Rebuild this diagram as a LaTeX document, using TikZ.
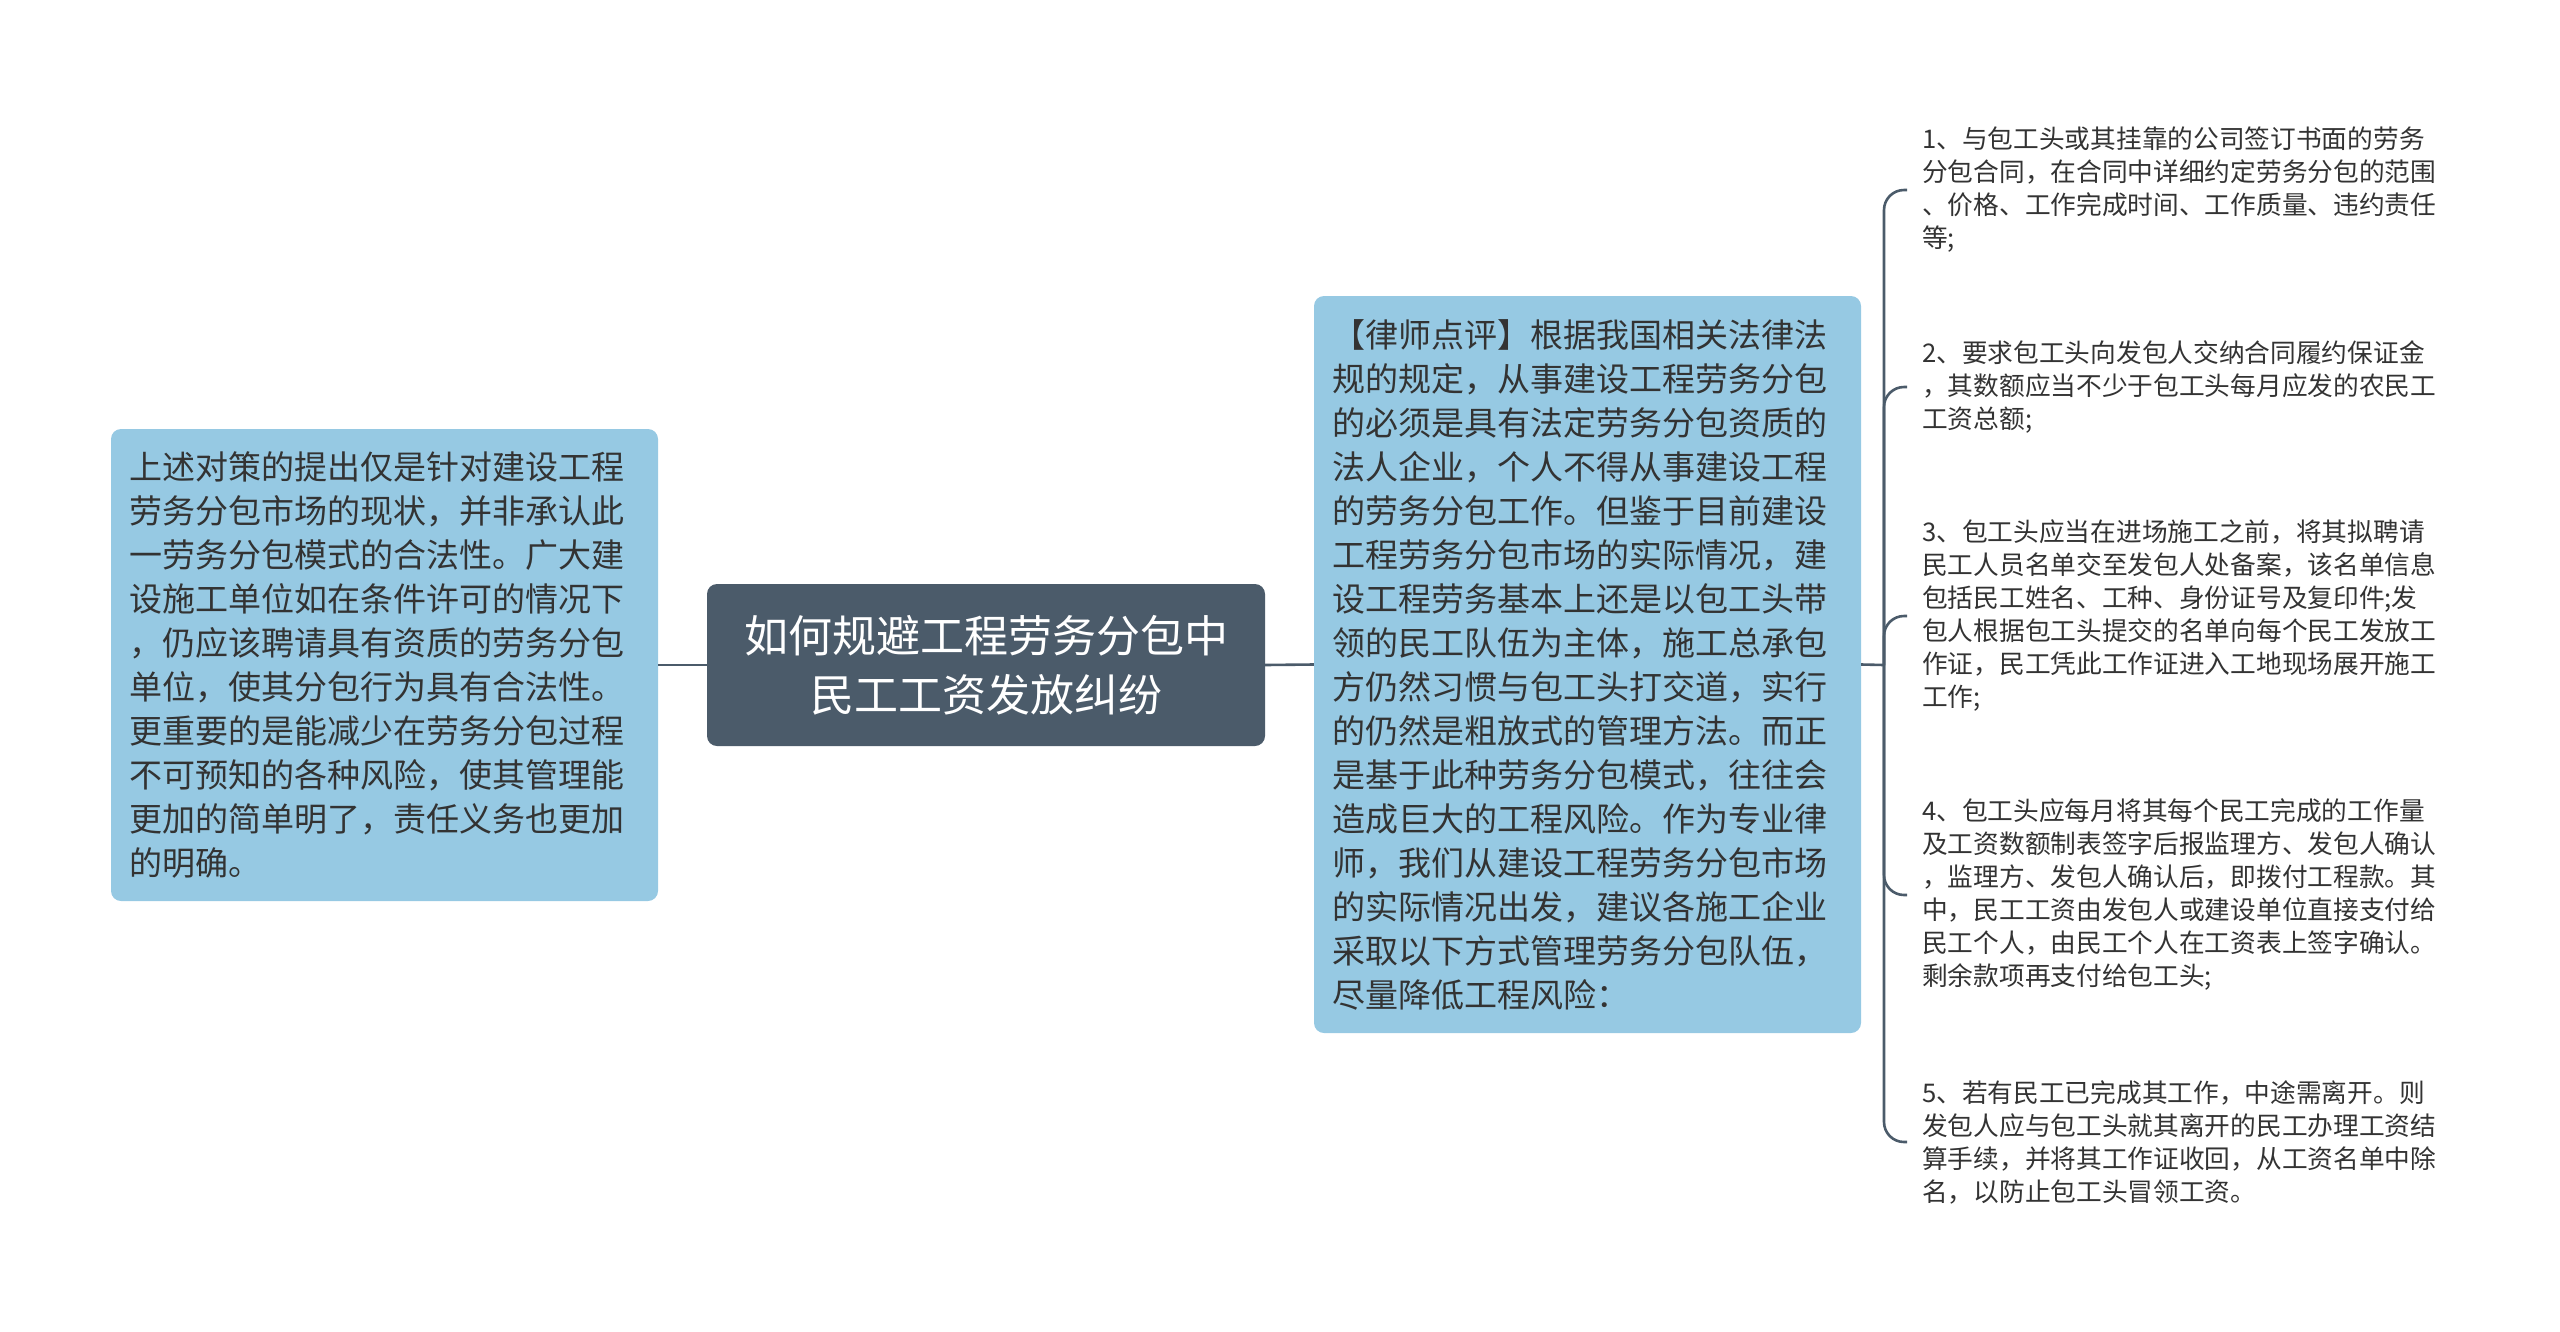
\documentclass[tikz,border=0pt]{standalone}
\usepackage{fontspec}
\setmainfont{Noto Sans CJK SC}
\usetikzlibrary{positioning}
\definecolor{boxblue}{HTML}{96C9E3}
\definecolor{rootgray}{HTML}{4B5B6A}
\definecolor{txtdark}{HTML}{333333}
\tikzset{
  bluebox/.style = {fill=boxblue, rounded corners=10pt, text=txtdark, align=left,
    inner xsep=18pt, inner ysep=0pt, font=\fontsize{33}{44}\selectfont},
  rootbox/.style = {fill=rootgray, rounded corners=10pt, text=white, align=center,
    inner sep=0pt, minimum width=558pt, minimum height=162pt, font=\fontsize{44}{59}\selectfont},
  itemtext/.style = {anchor=west, text=txtdark, align=left, inner xsep=15pt, inner ysep=0pt,
    font=\fontsize{25.7}{33}\selectfont},
  link/.style = {draw=rootgray, line width=2.6pt},
  branch/.style = {link, rounded corners=20pt}
}
\begin{document}
\begin{tikzpicture}[x=1pt, y=-1pt]
  \useasboundingbox (0,0) rectangle (2560,1331);

  \node [rootbox] (root) at (986,665) {如何规避工程劳务分包中\\民工工资发放纠纷};

  \node [bluebox, text width=511pt, minimum height=472pt] (summary) at (384.5,665) {%
上述对策的提出仅是针对建设工程\\%
劳务分包市场的现状，并非承认此\\%
一劳务分包模式的合法性。广大建\\%
设施工单位如在条件许可的情况下\\%
，仍应该聘请具有资质的劳务分包\\%
单位，使其分包行为具有合法性。\\%
更重要的是能减少在劳务分包过程\\%
不可预知的各种风险，使其管理能\\%
更加的简单明了，责任义务也更加\\%
的明确。};

  \node [bluebox, text width=511pt, minimum height=737pt] (review) at (1587.5,664.5) {%
【律师点评】根据我国相关法律法\\%
规的规定，从事建设工程劳务分包\\%
的必须是具有法定劳务分包资质的\\%
法人企业，个人不得从事建设工程\\%
的劳务分包工作。但鉴于目前建设\\%
工程劳务分包市场的实际情况，建\\%
设工程劳务基本上还是以包工头带\\%
领的民工队伍为主体，施工总承包\\%
方仍然习惯与包工头打交道，实行\\%
的仍然是粗放式的管理方法。而正\\%
是基于此种劳务分包模式，往往会\\%
造成巨大的工程风险。作为专业律\\%
师，我们从建设工程劳务分包市场\\%
的实际情况出发，建议各施工企业\\%
采取以下方式管理劳务分包队伍，\\%
尽量降低工程风险：};

  % measures on the right
  \coordinate (spine) at (1884,665);
  \node [itemtext] (item1) at (1907,190) {%
1、与包工头或其挂靠的公司签订书面的劳务\\%
分包合同，在合同中详细约定劳务分包的范围\\%
、价格、工作完成时间、工作质量、违约责任\\%
等;};
  \node [itemtext] (item2) at (1907,387) {%
2、要求包工头向发包人交纳合同履约保证金\\%
，其数额应当不少于包工头每月应发的农民工\\%
工资总额;};
  \node [itemtext] (item3) at (1907,616) {%
3、包工头应当在进场施工之前，将其拟聘请\\%
民工人员名单交至发包人处备案，该名单信息\\%
包括民工姓名、工种、身份证号及复印件;发\\%
包人根据包工头提交的名单向每个民工发放工\\%
作证，民工凭此工作证进入工地现场展开施工\\%
工作;};
  \node [itemtext] (item4) at (1907,895) {%
4、包工头应每月将其每个民工完成的工作量\\%
及工资数额制表签字后报监理方、发包人确认\\%
，监理方、发包人确认后，即拨付工程款。其\\%
中，民工工资由发包人或建设单位直接支付给\\%
民工个人，由民工个人在工资表上签字确认。\\%
剩余款项再支付给包工头;};
  \node [itemtext] (item5) at (1907,1142) {%
5、若有民工已完成其工作，中途需离开。则\\%
发包人应与包工头就其离开的民工办理工资结\\%
算手续，并将其工作证收回，从工资名单中除\\%
名，以防止包工头冒领工资。};

  \path [link] (summary.east) -- (root.west);
  \path [link] (root.east) -- (review.west);
  \path [link] (review.east) -- (spine);
  \foreach \i in {1,...,5}
    \path [branch] (spine) |- (item\i.west);
\end{tikzpicture}
\end{document}
